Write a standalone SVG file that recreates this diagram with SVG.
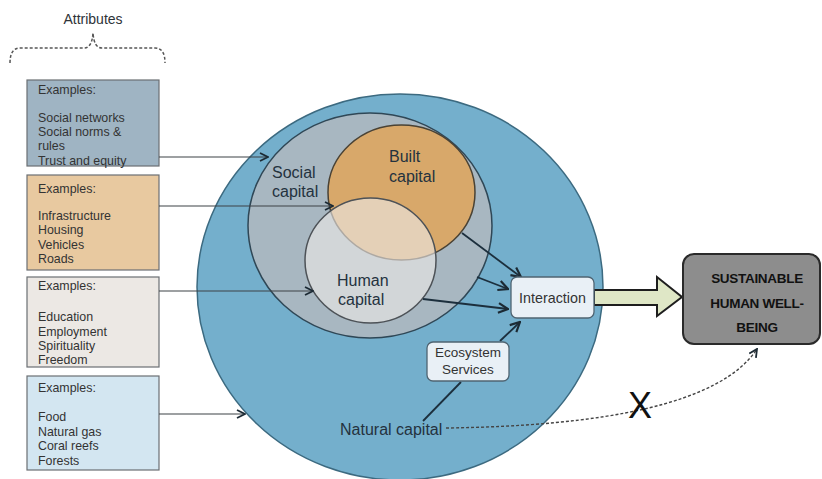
<svg xmlns="http://www.w3.org/2000/svg" width="822" height="479" viewBox="0 0 822 479">
<defs>
<style>
text{font-family:"Liberation Sans",Arial,sans-serif;fill:#2e3338}
.ex{font-size:12.4px;fill:#333}
.box{stroke:#6b6f73;stroke-width:1.2}
.conn{stroke:#3c4246;stroke-width:1.2;fill:none}
.dark{stroke:#1c2f3d;stroke-width:1.8;fill:none}
.lbl{font-size:16px;fill:#24323e}
.sb{font-size:13.5px;font-weight:bold;letter-spacing:-0.3px;fill:#111}
</style>
<marker id="chev" viewBox="0 0 10 10" refX="9" refY="5" markerWidth="10" markerHeight="10" markerUnits="userSpaceOnUse" orient="auto">
<path d="M1,1 L9,5 L1,9" fill="none" stroke="#1c2a34" stroke-width="1.8"/>
</marker>
<marker id="chev2" viewBox="0 0 10 10" refX="9" refY="5" markerWidth="12" markerHeight="12" markerUnits="userSpaceOnUse" orient="auto">
<path d="M1,1 L9,5 L1,9" fill="none" stroke="#1c2a34" stroke-width="1.8"/>
</marker>
</defs>
<rect width="822" height="479" fill="#ffffff"/>

<g id="attributes">
<text x="93" y="24" text-anchor="middle" style="font-size:14px">Attributes</text>
<path d="M10,63 Q10,48 20,48 L84,48 Q92,48 93,33 Q94,48 102,48 L155,48 Q165,48 165,63" fill="none" stroke="#555" stroke-width="1.5" stroke-dasharray="3,2"/>
</g>

<g id="box-social">
<rect class="box" x="27" y="80" width="132" height="86" fill="#9fb4c3"/>
<text class="ex" x="38" y="94">Examples:</text>
<text class="ex" x="38" y="121.5">Social networks</text>
<text class="ex" x="38" y="136">Social norms &amp;</text>
<text class="ex" x="38" y="150">rules</text>
<text class="ex" x="38" y="164.5">Trust and equity</text>
</g>
<g id="box-built">
<rect class="box" x="27" y="175" width="132" height="95" fill="#e8c9a0"/>
<text class="ex" x="38" y="192.5">Examples:</text>
<text class="ex" x="38" y="219.5">Infrastructure</text>
<text class="ex" x="38" y="234">Housing</text>
<text class="ex" x="38" y="248.5">Vehicles</text>
<text class="ex" x="38" y="262.5">Roads</text>
</g>
<g id="box-human">
<rect class="box" x="27" y="277" width="132" height="90" fill="#ece8e4"/>
<text class="ex" x="38" y="289.5">Examples:</text>
<text class="ex" x="38" y="321">Education</text>
<text class="ex" x="38" y="335.5">Employment</text>
<text class="ex" x="38" y="349.5">Spirituality</text>
<text class="ex" x="38" y="363.5">Freedom</text>
</g>
<g id="box-natural">
<rect class="box" x="27" y="376" width="132" height="94" fill="#d3e6f1"/>
<text class="ex" x="38" y="391.5">Examples:</text>
<text class="ex" x="38" y="420.5">Food</text>
<text class="ex" x="38" y="435.5">Natural gas</text>
<text class="ex" x="38" y="450">Coral reefs</text>
<text class="ex" x="38" y="465">Forests</text>
</g>

<g id="natural-capital">
<ellipse cx="400" cy="287" rx="203" ry="193" fill="#74afcc" stroke="#3c6a80" stroke-width="1.5"/>
</g>
<g id="social-capital">
<ellipse cx="370" cy="225.5" rx="122" ry="112.5" fill="#a8b7c1" stroke="#2f4756" stroke-width="1.5"/>
<text class="lbl" x="272" y="178">Social</text>
<text class="lbl" x="272" y="197">capital</text>
</g>
<g id="built-capital">
<ellipse cx="401.5" cy="192.5" rx="73.5" ry="67.5" fill="#d8a86a" stroke="#4a4234" stroke-width="1.5"/>
<text class="lbl" x="389" y="162">Built</text>
<text class="lbl" x="389" y="182">capital</text>
</g>
<g id="human-capital">
<ellipse cx="370.5" cy="260.5" rx="65.5" ry="62.5" fill="#ebe8e6" fill-opacity="0.62" stroke="#4d5257" stroke-width="1.5"/>
<text class="lbl" x="337" y="286">Human</text>
<text class="lbl" x="338" y="305">capital</text>
</g>
<g id="natural-label">
<text class="lbl" x="340" y="435">Natural capital</text>
</g>

<g id="connectors">
<line class="conn" x1="159" y1="157" x2="268" y2="157" marker-end="url(#chev)"/>
<line class="conn" x1="159" y1="206" x2="333" y2="206" marker-end="url(#chev)"/>
<line class="conn" x1="159" y1="291" x2="313" y2="291" marker-end="url(#chev)"/>
<line class="conn" x1="159" y1="414" x2="245" y2="414" marker-end="url(#chev)"/>
<line class="dark" x1="462" y1="233" x2="521" y2="277" marker-end="url(#chev2)"/>
<line class="dark" x1="477" y1="277" x2="508" y2="289" marker-end="url(#chev2)"/>
<line class="dark" x1="423" y1="299" x2="508" y2="309" marker-end="url(#chev2)"/>
<line class="dark" x1="500" y1="341" x2="520" y2="322" marker-end="url(#chev2)"/>
<line class="dark" x1="423" y1="421" x2="461" y2="382"/>
<path d="M446,428 C600,426 720,405 757,349" fill="none" stroke="#444" stroke-width="1.4" stroke-dasharray="3,2" marker-end="url(#chev)"/>
<path d="M594,290 L657,290 L657,277 L682,297 L657,316 L657,305 L594,305 Z" fill="#dfe7c6" stroke="#1e1e1e" stroke-width="2" stroke-linejoin="miter"/>
<text x="640" y="418" text-anchor="middle" style="font-size:36px;fill:#111">X</text>
</g>

<g id="interaction">
<rect x="511" y="277" width="83" height="41" rx="6" fill="#e9f0f6" stroke="#4f6472" stroke-width="1.3"/>
<text x="552.5" y="302.5" text-anchor="middle" style="font-size:14.3px;fill:#333">Interaction</text>
</g>
<g id="ecosystem-services">
<rect x="427" y="342" width="82" height="39" rx="6" fill="#e9f0f6" stroke="#4f6472" stroke-width="1.3"/>
<text x="468" y="357" text-anchor="middle" style="font-size:13.5px;fill:#333">Ecosystem</text>
<text x="468" y="373.5" text-anchor="middle" style="font-size:13.5px;fill:#333">Services</text>
</g>
<g id="sustainable">
<rect x="683" y="254" width="137" height="90" rx="11" fill="#8d8d8d" stroke="#2a2a2a" stroke-width="2"/>
<text class="sb" x="757" y="283" text-anchor="middle">SUSTAINABLE</text>
<text class="sb" x="757" y="308" text-anchor="middle">HUMAN WELL-</text>
<text class="sb" x="757" y="332" text-anchor="middle">BEING</text>
</g>
</svg>
